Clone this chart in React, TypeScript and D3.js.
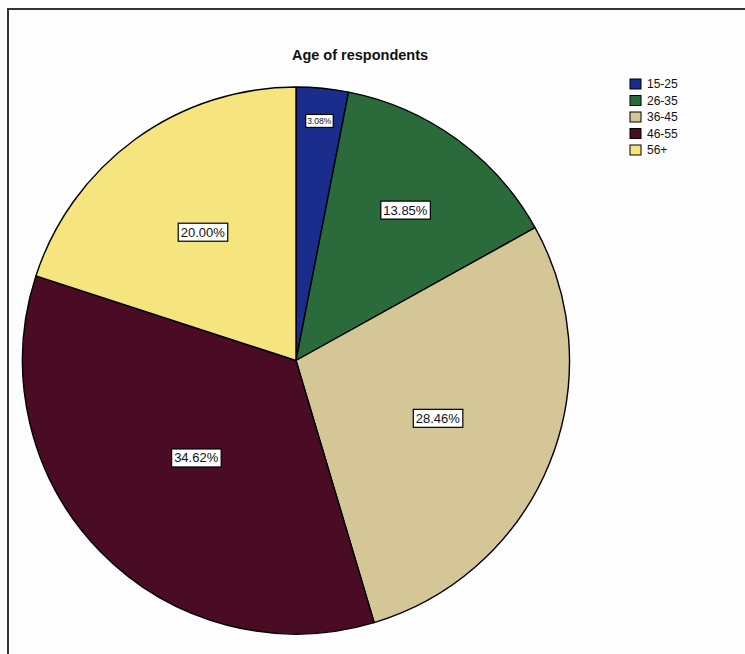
import React, { useEffect, useRef } from "react";
import * as d3 from "d3";

const categories = ["15-25", "26-35", "36-45", "46-55", "56+"];
const percents = [3.08, 13.85, 28.46, 34.62, 20.0];
const colors = ["#1b2d8c", "#2b6b3b", "#d5c698", "#4a0b24", "#f6e47e"];
const labelRadius = [0.88, 0.68, 0.56, 0.51, 0.58];
const title = "Age of respondents";

export default function App() {
  const ref = useRef<SVGSVGElement | null>(null);
  useEffect(() => {
    const svg = d3.select(ref.current);
    svg.selectAll("*").remove();
    const W = 745, H = 654;
    const font = "Liberation Sans, Arial, sans-serif";
    svg.append("rect").attr("width", W).attr("height", H).attr("fill", "#fdfdfd");
    svg.append("rect").attr("x", 8).attr("y", 9).attr("width", W + 10).attr("height", H + 10)
      .attr("fill", "none").attr("stroke", "#333").attr("stroke-width", 2);

    svg.append("text").attr("x", 360).attr("y", 60).attr("text-anchor", "middle")
      .attr("font-family", font).attr("font-weight", "bold")
      .attr("font-size", 14.5).attr("fill", "#111").text(title);

    const cx = 296, cy = 360.5, r = 273.5;
    const data = categories.map((c, i) => ({ c, v: percents[i], i }));
    const pie = d3.pie<any>().value((d) => d.v).sort(null);
    const arcs = pie(data);
    const arc = d3.arc<any>().innerRadius(0).outerRadius(r);
    const g = svg.append("g").attr("transform", `translate(${cx},${cy})`);
    g.selectAll("path").data(arcs).enter().append("path")
      .attr("d", arc as any).attr("fill", (d: any) => colors[d.data.i])
      .attr("stroke", "#000").attr("stroke-width", 1.4).attr("stroke-linejoin", "round");

    arcs.forEach((a: any) => {
      const lr = r * labelRadius[a.data.i];
      const la = d3.arc<any>().innerRadius(lr).outerRadius(lr);
      const [x, y] = la.centroid(a);
      const small = a.data.v < 5;
      const fs = small ? 8.5 : 13;
      const txt = a.data.v.toFixed(2) + "%";
      const lg = g.append("g").attr("transform", `translate(${x},${y})`);
      const t = lg.append("text").attr("text-anchor", "middle").attr("dy", "0.35em")
        .attr("font-family", font).attr("font-size", fs)
        .attr("fill", "#111").text(txt);
      const bb = (t.node() as SVGTextElement).getBBox();
      const px = small ? 1.5 : 2.5;
      lg.insert("rect", "text").attr("x", bb.x - px).attr("y", bb.y - 1.5)
        .attr("width", bb.width + 2 * px).attr("height", bb.height + 3)
        .attr("fill", "#fff").attr("stroke", "#000").attr("stroke-width", 1.2);
    });

    const leg = svg.append("g").attr("transform", "translate(630,79)");
    categories.forEach((c, i) => {
      const row = leg.append("g").attr("transform", `translate(0,${i * 16.5})`);
      row.append("rect").attr("width", 11).attr("height", 10).attr("fill", colors[i])
        .attr("stroke", "#000").attr("stroke-width", 1);
      row.append("text").attr("x", 17).attr("y", 5).attr("dy", "0.36em")
        .attr("font-family", font).attr("font-size", 12)
        .attr("fill", "#111").text(c);
    });
  }, []);
  return (
    <svg ref={ref} width={745} height={654}
      style={{ position: "absolute", left: 0, top: 0, display: "block" }} />
  );
}
